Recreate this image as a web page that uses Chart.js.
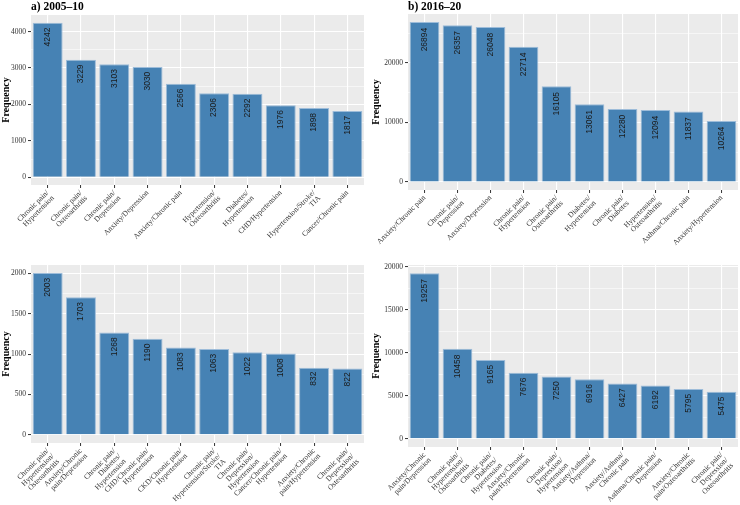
<!DOCTYPE html>
<html>
<head>
<meta charset="utf-8">
<script src="https://cdn.jsdelivr.net/npm/chart.js@4/dist/chart.umd.min.js"></script>
<style>
  body { margin: 0; background: #fff; }
  #wrap { position: relative; width: 740px; height: 505px; overflow: hidden; }
  canvas { position: absolute; }
</style>
</head>
<body>
<div id="wrap">
  <canvas id="chartA" width="370" height="258" style="left:0;top:0"></canvas>
  <canvas id="chartB" width="370" height="258" style="left:370px;top:0"></canvas>
  <canvas id="chartC" width="370" height="265" style="left:0;top:240px"></canvas>
  <canvas id="chartD" width="370" height="265" style="left:370px;top:240px"></canvas>
</div>
<script>
// a) 2005-10, pairs
let catsA = [
  ["Chronic pain/", "Hypertension"], ["Chronic pain/", "Osteoarthritis"], ["Chronic pain/", "Depression"],
  "Anxiety/Depression", "Anxiety/Chronic pain", ["Hypertension/", "Osteoarthritis"],
  ["Diabetes/", "Hypertension"], "CHD/Hypertension", ["Hypertension/Stroke/", "TIA"], "Cancer/Chronic pain"
];
let valsA = [4242, 3229, 3103, 3030, 2566, 2306, 2292, 1976, 1898, 1817];
let ticksA = [0, 1000, 2000, 3000, 4000];

// b) 2016-20, pairs
let catsB = [
  "Anxiety/Chronic pain", ["Chronic pain/", "Depression"], "Anxiety/Depression",
  ["Chronic pain/", "Hypertension"], ["Chronic pain/", "Osteoarthritis"], ["Diabetes/", "Hypertension"],
  ["Chronic pain/", "Diabetes"], ["Hypertension/", "Osteoarthritis"], "Asthma/Chronic pain", "Anxiety/Hypertension"
];
let valsB = [26894, 26357, 26048, 22714, 16105, 13061, 12280, 12094, 11837, 10264];
let ticksB = [0, 10000, 20000];

// 2005-10, triples
let catsC = [
  ["Chronic pain/", "Hypertension/", "Osteoarthritis"], ["Anxiety/Chronic", "pain/Depression"],
  ["Chronic pain/", "Diabetes/", "Hypertension"], ["CHD/Chronic pain/", "Hypertension"],
  ["CKD/Chronic pain/", "Hypertension"], ["Chronic pain/", "Hypertension/Stroke/", "TIA"],
  ["Chronic pain/", "Depression/", "Hypertension"], ["Cancer/Chronic pain/", "Hypertension"],
  ["Anxiety/Chronic", "pain/Hypertension"], ["Chronic pain/", "Depression/", "Osteoarthritis"]
];
let valsC = [2003, 1703, 1268, 1190, 1083, 1063, 1022, 1008, 832, 822];
let ticksC = [0, 500, 1000, 1500, 2000];

// 2016-20, triples
let catsD = [
  ["Anxiety/Chronic", "pain/Depression"], ["Chronic pain/", "Hypertension/", "Osteoarthritis"],
  ["Chronic pain/", "Diabetes/", "Hypertension"], ["Anxiety/Chronic", "pain/Hypertension"],
  ["Chronic pain/", "Depression/", "Hypertension"], ["Anxiety/Asthma/", "Depression"],
  ["Anxiety/Asthma/", "Chronic pain"], ["Asthma/Chronic pain/", "Depression"],
  ["Anxiety/Chronic", "pain/Osteoarthritis"], ["Chronic pain/", "Depression/", "Osteoarthritis"]
];
let valsD = [19257, 10458, 9165, 7676, 7250, 6916, 6427, 6192, 5795, 5475];
let ticksD = [0, 5000, 10000, 15000, 20000];

const serif = "'Liberation Serif', 'Times New Roman', serif";
const sans = "'Liberation Sans', Arial, sans-serif";

// grey panel like ggplot
const panelBg = {
  id: "panelBg",
  beforeDraw(chart) {
    const a = chart.chartArea, c = chart.ctx;
    c.save();
    c.fillStyle = "#EBEBEB";
    c.fillRect(a.left, a.top, a.right - a.left, a.bottom - a.top);
    c.restore();
  }
};

const panelTitle = {
  id: "panelTitle",
  afterDraw(chart, args, opts) {
    if (!opts.text) return;
    const c = chart.ctx;
    c.save();
    c.font = "bold 11.5px " + serif;
    c.fillStyle = "#000";
    c.textAlign = "left";
    c.textBaseline = "alphabetic";
    c.fillText(opts.text, chart.chartArea.left, 10);
    c.restore();
  }
};

// rotated counts inside the bars
const barValues = {
  id: "barValues",
  afterDatasetsDraw(chart) {
    const c = chart.ctx;
    const ds = chart.data.datasets[0];
    c.save();
    c.font = "8.5px " + sans;
    c.fillStyle = "#1a1a1a";
    c.textAlign = "right";
    c.textBaseline = "middle";
    chart.getDatasetMeta(0).data.forEach((bar, i) => {
      const t = String(ds.data[i]);
      const w = c.measureText(t).width;
      c.save();
      c.translate(bar.x, bar.y + 0.2 * w + 1);
      c.rotate(-Math.PI / 2);
      c.fillText(t, 0, 0);
      c.restore();
    });
    c.restore();
  }
};

function makePanel(id, title, cats, vals, ticks, box) {
  const canvas = document.getElementById(id);
  const W = canvas.width, H = canvas.height;
  const top = Math.max(...vals);
  const step = ticks[1] / 2;
  const isMajor = v => ticks.indexOf(Math.round(v)) !== -1;
  const yTicks = [];
  for (let v = 0; v <= top * 1.05; v += step) yTicks.push({ value: v });

  return new Chart(canvas, {
    type: "bar",
    data: {
      labels: cats,
      datasets: [{
        data: vals,
        backgroundColor: "#4682B4",
        borderColor: "#9dbcd9",
        borderWidth: 1,
        barPercentage: 0.9,
        categoryPercentage: 1
      }]
    },
    options: {
      responsive: false,
      animation: false,
      layout: { padding: { top: box.top, right: W - box.right, left: 0, bottom: 0 } },
      plugins: {
        legend: { display: false },
        tooltip: { enabled: false },
        panelTitle: { text: title }
      },
      scales: {
        x: {
          offset: true,
          border: { display: false },
          grid: { offset: false, color: "#fff", lineWidth: 1.1, tickLength: 3, tickColor: "#333", tickWidth: 1 },
          ticks: {
            autoSkip: false, maxRotation: 45, minRotation: 45, padding: 1,
            color: "#333", font: { family: serif, size: 7.5, lineHeight: 1.0 }
          },
          afterFit(s) { s.height = H - box.bottom; s.paddingLeft = 0; s.paddingRight = 0; }
        },
        y: {
          type: "linear",
          min: -0.05 * top,
          max: 1.05 * top,
          border: { display: false },
          grid: {
            color: "#fff",
            lineWidth: ctx => (ctx.tick && isMajor(ctx.tick.value)) ? 1.1 : 0.55,
            tickLength: 3,
            tickColor: ctx => (ctx.tick && isMajor(ctx.tick.value)) ? "#333" : "rgba(0,0,0,0)",
            tickWidth: 1
          },
          ticks: {
            autoSkip: false, padding: 2,
            color: "#333", font: { family: serif, size: 7.5 },
            callback: function (v, i, arr) {
              const val = (arr && arr[i]) ? arr[i].value : v;
              return isMajor(val) ? String(Math.round(val)) : "";
            }
          },
          afterBuildTicks(s) { s.ticks = yTicks.map(t => ({ value: t.value })); },
          title: {
            display: true, text: "Frequency", color: "#000", padding: 0,
            font: { family: serif, size: 10, weight: "bold", lineHeight: 1.2 }
          },
          afterFit(s) { s.width = box.left; }
        }
      }
    },
    plugins: [panelBg, barValues, panelTitle]
  });
}

makePanel("chartA", "a) 2005–10", catsA, valsA, ticksA, { left: 31, right: 364, top: 15, bottom: 185 });
makePanel("chartB", "b) 2016–20", catsB, valsB, ticksB, { left: 38, right: 368, top: 14, bottom: 190 });
makePanel("chartC", "", catsC, valsC, ticksC, { left: 31, right: 364, top: 25, bottom: 203 });
makePanel("chartD", "", catsD, valsD, ticksD, { left: 38, right: 368, top: 25, bottom: 207 });
</script>
</body>
</html>
